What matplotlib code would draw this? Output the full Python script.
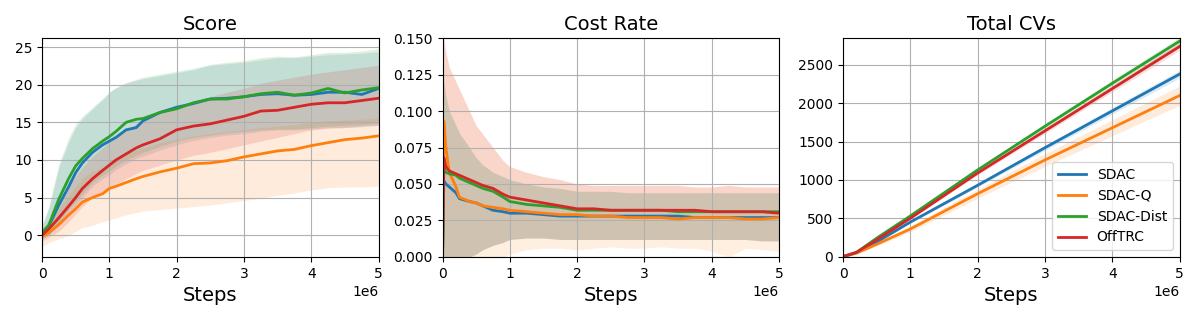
import numpy as np
import matplotlib
matplotlib.use("Agg")
import matplotlib.pyplot as plt

# steps in units of 1e6
steps = [0, 0.1, 0.25, 0.4, 0.5, 0.6, 0.75, 0.9, 1.0, 1.1, 1.25, 1.4, 1.5, 1.75, 2.0, 2.25, 2.5, 2.75,
         3.0, 3.25, 3.5, 3.75, 4.0, 4.25, 4.5, 4.75, 5.0]

labels = ["SDAC", "SDAC-Q", "SDAC-Dist", "OffTRC"]
colors = ["tab:blue", "tab:orange", "tab:green", "tab:red"]

# ---- Score ----
score_sdac = [0.3, 1.2, 4.0, 6.5, 8.3, 9.6, 11.0, 12.0, 12.5, 13.0, 14.0, 14.3, 15.2, 16.3, 17.0, 17.5, 18.1,
              18.2, 18.4, 18.7, 18.8, 18.6, 18.7, 19.0, 19.0, 18.7, 19.5]
score_sdacq = [-0.2, 0.3, 1.4, 2.7, 3.5, 4.4, 5.0, 5.5, 6.2, 6.5, 7.0, 7.5, 7.8, 8.4, 8.9, 9.5, 9.6,
               9.9, 10.4, 10.8, 11.2, 11.4, 11.9, 12.3, 12.7, 12.9, 13.2]
score_dist = [0.3, 1.3, 4.8, 7.6, 9.2, 10.2, 11.5, 12.5, 13.1, 13.8, 15.0, 15.4, 15.5, 16.3, 16.8, 17.6, 18.1,
              18.1, 18.4, 18.8, 19.0, 18.6, 18.9, 19.5, 18.9, 19.3, 19.6]
score_offtrc = [0.0, 0.8, 2.3, 3.9, 5.0, 6.2, 7.5, 8.6, 9.3, 10.0, 10.8, 11.6, 12.0, 12.8, 14.0, 14.5, 14.8,
                15.3, 15.8, 16.5, 16.6, 17.0, 17.4, 17.6, 17.6, 17.9, 18.2]
score_lo = [
    [-0.5, 0.0, 1.5, 3.0, 4.0, 5.0, 6.5, 7.5, 8.0, 8.7, 9.5, 10.2, 10.5, 11.3, 12.0, 12.6, 13.0,
     13.3, 13.5, 13.8, 14.0, 14.0, 14.1, 14.3, 14.3, 14.4, 14.6],
    [-1.5, -1.0, -0.5, 0.0, 0.5, 1.0, 1.3, 1.8, 2.0, 2.3, 2.7, 3.0, 3.2, 3.4, 3.6, 3.8, 4.0,
     4.3, 4.6, 4.9, 5.3, 5.6, 6.0, 6.3, 6.4, 6.4, 6.5],
    [-0.5, 0.0, 1.8, 3.5, 4.5, 5.5, 7.0, 8.0, 8.5, 9.2, 10.0, 10.6, 11.0, 11.8, 12.5, 13.0, 13.3,
     13.6, 13.8, 14.0, 14.1, 14.1, 14.3, 14.5, 14.6, 14.7, 14.9],
    [-0.8, -0.3, 0.5, 1.8, 2.8, 3.8, 5.0, 5.8, 6.3, 6.8, 7.5, 8.2, 8.6, 9.3, 10.0, 10.6, 11.0,
     11.5, 12.0, 12.5, 13.0, 13.5, 14.0, 14.2, 14.3, 14.5, 14.6],
]
score_hi = [
    [1.2, 3.5, 9.0, 12.5, 14.3, 15.5, 16.8, 18.0, 19.0, 19.6, 20.2, 20.6, 20.8, 21.2, 21.6, 22.0, 22.6,
     22.8, 23.0, 23.3, 23.6, 23.6, 23.8, 24.0, 24.1, 24.2, 24.4],
    [1.0, 1.5, 3.5, 5.3, 6.5, 7.6, 8.5, 9.0, 9.6, 10.0, 10.8, 11.3, 11.6, 12.3, 12.8, 13.2, 13.5,
     13.8, 14.0, 14.3, 14.5, 14.7, 15.0, 15.2, 15.3, 15.4, 15.6],
    [1.2, 3.8, 9.5, 13.0, 14.8, 15.8, 17.0, 18.2, 19.0, 19.6, 20.3, 20.7, 21.0, 21.4, 21.8, 22.2, 22.7,
     23.0, 23.2, 23.6, 23.8, 23.7, 24.0, 24.3, 24.3, 24.5, 24.8],
    [0.8, 2.0, 4.5, 6.5, 7.8, 9.0, 10.5, 11.6, 12.4, 13.0, 14.0, 14.8, 15.3, 16.2, 17.2, 17.8, 18.4,
     19.0, 19.5, 20.2, 20.6, 21.0, 21.4, 21.7, 22.0, 22.3, 22.6],
]

# ---- Cost rate ----
cost_steps = [0, 0.02, 0.05, 0.1, 0.2, 0.25, 0.4, 0.5, 0.6, 0.75, 0.9, 1.0, 1.25, 1.5, 1.75, 2.0, 2.25, 2.5,
              2.75, 3.0, 3.25, 3.5, 3.75, 4.0, 4.25, 4.5, 4.75, 5.0]
cost_sdac = [0.0, 0.052, 0.050, 0.048, 0.044, 0.040, 0.038, 0.037, 0.035, 0.032, 0.031, 0.030, 0.030, 0.029,
             0.028, 0.028, 0.028, 0.028, 0.028, 0.028, 0.028, 0.028, 0.027, 0.027, 0.027, 0.027, 0.027, 0.027]
cost_sdacq = [0.0, 0.093, 0.075, 0.058, 0.048, 0.041, 0.038, 0.037, 0.035, 0.034, 0.033, 0.032, 0.031, 0.030,
              0.029, 0.029, 0.028, 0.028, 0.027, 0.027, 0.027, 0.026, 0.027, 0.027, 0.027, 0.026, 0.026, 0.027]
cost_dist = [0.0, 0.062, 0.058, 0.057, 0.056, 0.054, 0.051, 0.049, 0.047, 0.045, 0.041, 0.038, 0.036, 0.035,
             0.034, 0.032, 0.032, 0.032, 0.032, 0.032, 0.032, 0.031, 0.031, 0.031, 0.031, 0.031, 0.031, 0.031]
cost_offtrc = [0.0, 0.068, 0.062, 0.059, 0.057, 0.056, 0.053, 0.051, 0.049, 0.047, 0.043, 0.041, 0.039, 0.037,
               0.035, 0.033, 0.033, 0.032, 0.032, 0.032, 0.032, 0.032, 0.032, 0.031, 0.031, 0.031, 0.031, 0.030]
cost_lo = [0.0, 0.0, 0.0, 0.0, 0.0, 0.0, 0.0, 0.002, 0.005, 0.008, 0.010, 0.012, 0.013, 0.013,
           0.012, 0.012, 0.012, 0.012, 0.012, 0.012, 0.012, 0.012, 0.012, 0.012, 0.012, 0.012, 0.011, 0.011]
cost_lo_q = [0.0, 0.0, 0.0, 0.0, 0.0, 0.0, 0.0, 0.0, 0.0, 0.0, 0.0, 0.002, 0.005, 0.006,
             0.006, 0.005, 0.006, 0.007, 0.006, 0.006, 0.007, 0.006, 0.006, 0.004, 0.0, 0.006, 0.005, 0.004]
cost_hi = [0.15, 0.15, 0.14, 0.13, 0.12, 0.115, 0.10, 0.09, 0.084, 0.075, 0.066, 0.062, 0.058, 0.055,
           0.053, 0.050, 0.049, 0.049, 0.049, 0.049, 0.049, 0.049, 0.048, 0.048, 0.049, 0.048, 0.048, 0.048]
cost_hi_mid = [0.12, 0.12, 0.11, 0.10, 0.09, 0.085, 0.075, 0.068, 0.063, 0.058, 0.055, 0.053, 0.050, 0.048,
               0.047, 0.045, 0.045, 0.045, 0.044, 0.044, 0.044, 0.044, 0.044, 0.044, 0.044, 0.044, 0.044, 0.044]

# ---- Total CVs ----
cv_steps = [0, 0.2, 0.5, 1.0, 2.0, 3.0, 4.0, 5.0]
cv_sdac = [0, 50, 190, 450, 930, 1420, 1900, 2380]
cv_sdacq = [0, 45, 160, 360, 820, 1260, 1680, 2100]
cv_dist = [0, 55, 240, 530, 1130, 1700, 2260, 2810]
cv_offtrc = [0, 55, 220, 500, 1090, 1640, 2190, 2740]
cv_spread = [0, 5, 15, 25, 40, 55, 70, 85]

scores = [score_sdac, score_sdacq, score_dist, score_offtrc]
costs = [cost_sdac, cost_sdacq, cost_dist, cost_offtrc]
cvs = [cv_sdac, cv_sdacq, cv_dist, cv_offtrc]

fig, axes = plt.subplots(1, 3, figsize=(12, 3.2), dpi=100)
fig.subplots_adjust(left=0.035, right=0.983, top=0.881, bottom=0.197, wspace=0.19)

x = np.array(steps) * 1e6
ax = axes[0]
for i in range(4):
    ax.fill_between(x, score_lo[i], score_hi[i], color=colors[i], alpha=0.15, linewidth=0)
for i in range(4):
    ax.plot(x, scores[i], color=colors[i], lw=2)
ax.set_ylim(-2.9, 26.2)
ax.set_title("Score", fontsize=14)

xc = np.array(cost_steps) * 1e6
ax = axes[1]
for i in range(4):
    lo = cost_lo_q if i == 1 else cost_lo
    hi = cost_hi if i in (1, 3) else cost_hi_mid
    ax.fill_between(xc, lo, hi, color=colors[i], alpha=0.12, linewidth=0)
for i in range(4):
    ax.plot(xc, costs[i], color=colors[i], lw=2)
ax.set_ylim(0, 0.15)
ax.set_title("Cost Rate", fontsize=14)

xv = np.array(cv_steps) * 1e6
ax = axes[2]
for i in range(4):
    sp = np.array(cv_spread) * (1.5 if i == 1 else 0.6)
    ax.fill_between(xv, np.array(cvs[i]) - sp, np.array(cvs[i]) + sp, color=colors[i], alpha=0.15, linewidth=0)
for i in range(4):
    ax.plot(xv, cvs[i], color=colors[i], lw=2, label=labels[i])
ax.set_ylim(-5, 2850)
ax.set_title("Total CVs", fontsize=14)
ax.legend(loc="lower right")

for ax in axes:
    ax.set_xlim(0, 5e6)
    ax.set_xlabel("Steps", fontsize=14)
    ax.grid(True)

fig.savefig("out.png")
